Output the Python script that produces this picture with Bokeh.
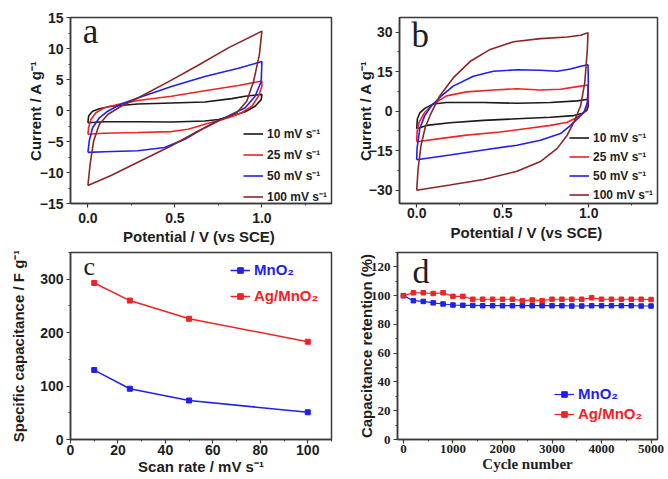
from bokeh.plotting import figure
from bokeh.layouts import column, row
from bokeh.models import Legend, LegendItem, Label, FixedTicker, Range1d, NumeralTickFormatter
from bokeh.embed import file_html
from bokeh.resources import INLINE

# ---------------- data ----------------
# Panel a: CV loops of MnO2 (potential V, current A/g)
a10_v = [0.0, 0.004, 0.027, 0.066, 0.133, 0.287, 0.48, 0.672, 0.827, 0.904, 1.0, 0.996, 0.961, 0.904, 0.827, 0.75, 0.672, 0.48, 0.287, 0.094, 0.0]
a10_i = [-1.97, -0.90, -0.11, 0.27, 0.69, 1.06, 1.22, 1.38, 1.91, 2.29, 2.6, 1.76, 0.69, -0.21, -0.90, -1.44, -1.70, -1.86, -1.81, -1.81, -1.97]
a25_v = [0.0, 0.004, 0.017, 0.046, 0.094, 0.171, 0.287, 0.48, 0.672, 0.865, 1.0, 1.0, 0.98, 0.942, 0.884, 0.807, 0.75, 0.672, 0.576, 0.48, 0.287, 0.094, 0.0]
a25_i = [-3.83, -2.77, -1.44, -0.37, 0.43, 0.96, 1.60, 2.29, 3.19, 4.04, 4.75, 3.88, 2.29, 0.69, -0.37, -1.17, -1.60, -2.23, -3.03, -3.40, -3.56, -3.67, -3.83]
a50_v = [0.0, 0.008, 0.027, 0.066, 0.114, 0.191, 0.287, 0.48, 0.672, 0.865, 1.0, 0.996, 0.961, 0.904, 0.807, 0.75, 0.672, 0.557, 0.441, 0.287, 0.094, 0.0]
a50_i = [-6.76, -4.89, -2.77, -1.17, -0.11, 1.06, 2.02, 3.88, 5.48, 6.81, 7.9, 4.68, 2.29, 0.43, -0.90, -1.60, -2.77, -4.63, -5.96, -6.49, -6.65, -6.76]
a100_v = [0.0, 0.013, 0.033, 0.066, 0.114, 0.191, 0.287, 0.48, 0.634, 0.807, 1.0, 0.985, 0.952, 0.913, 0.855, 0.75, 0.634, 0.48, 0.287, 0.133, 0.0]
a100_i = [-12.1, -8.6, -4.9, -2.23, -0.64, 0.69, 2.02, 4.9, 7.3, 10.1, 12.8, 8.94, 4.68, 1.49, -0.37, -1.70, -3.30, -5.69, -8.35, -10.48, -12.1]

# Panel b: CV loops of Ag/MnO2
b10_v = [0.0, 0.004, 0.018, 0.047, 0.096, 0.173, 0.388, 0.583, 0.778, 0.934, 0.996, 0.998, 0.988, 0.963, 0.914, 0.778, 0.583, 0.388, 0.193, 0.057, 0.0]
b10_i = [-6.65, -2.9, -0.68, 1.06, 2.7, 3.3, 3.3, 3.0, 3.3, 3.9, 4.5, 2.05, 0.19, -0.8, -1.68, -2.3, -2.9, -3.5, -4.4, -5.4, -6.65]
b25_v = [0.0, 0.002, 0.014, 0.047, 0.096, 0.173, 0.29, 0.446, 0.583, 0.719, 0.836, 0.934, 0.996, 0.998, 0.992, 0.973, 0.934, 0.875, 0.778, 0.641, 0.485, 0.29, 0.134, 0.0]
b25_i = [-11.6, -7.9, -4.2, -0.43, 2.7, 5.8, 7.3, 8.0, 8.5, 8.0, 8.3, 9.3, 9.9, 5.8, 2.05, -0.43, -2.3, -4.2, -5.4, -6.6, -7.9, -9.1, -10.4, -11.6]
b50_v = [0.0, 0.002, 0.018, 0.047, 0.086, 0.134, 0.212, 0.329, 0.446, 0.583, 0.719, 0.817, 0.895, 0.953, 0.996, 0.998, 0.992, 0.973, 0.934, 0.895, 0.836, 0.719, 0.583, 0.388, 0.193, 0.0]
b50_i = [-18.4, -14.1, -6.6, -1.7, 2.05, 5.2, 9.5, 13.2, 15.1, 15.7, 15.5, 15.1, 16.0, 17.0, 17.6, 10.7, 3.3, -0.43, -2.9, -5.4, -8.5, -11.0, -12.9, -14.7, -16.6, -18.4]
b100_v = [0.0, 0.008, 0.025, 0.05, 0.086, 0.134, 0.212, 0.31, 0.427, 0.563, 0.719, 0.875, 0.953, 0.996, 0.992, 0.977, 0.953, 0.914, 0.875, 0.817, 0.719, 0.583, 0.388, 0.193, 0.0]
b100_i = [-30.0, -22.0, -13.0, -6.0, -0.43, 5.78, 12.6, 18.8, 23.4, 26.3, 27.5, 28.1, 28.8, 29.75, 23.2, 10.7, 2.05, -4.2, -9.1, -14.1, -19.1, -22.8, -25.9, -28.0, -30.0]

cv_labels = ["10 mV s\u207b\u00b9", "25 mV s\u207b\u00b9", "50 mV s\u207b\u00b9", "100 mV s\u207b\u00b9"]

# Panel c: specific capacitance vs scan rate
scan_rate = [10, 25, 50, 100]
cap_mno2 = [130, 95, 73, 51]
cap_ag_mno2 = [293, 260, 226, 183]

# Panel d: cycling stability
cycles = [0, 200, 400, 600, 800, 1000, 1200, 1400, 1600, 1800, 2000, 2200, 2400, 2600,
          2800, 3000, 3200, 3400, 3600, 3800, 4000, 4200, 4400, 4600, 4800, 5000]
ret_mno2 = [100, 96.5, 96, 95, 94.2, 93.5, 93.3, 93.2, 93, 93, 93, 93, 93, 93,
            93, 93, 93, 92.8, 92.8, 93, 93, 93, 93, 93, 92.8, 92.8]
ret_ag_mno2 = [100, 102, 102, 101.5, 102, 99.5, 99.5, 97.5, 97.5, 97.5, 97.5, 97.5, 96.5, 97,
               96.5, 97.5, 97.5, 97.5, 97.5, 98.5, 97.5, 97.5, 97.5, 97.5, 97.5, 97.3]

# ---------------- style ----------------
SANS = "Liberation Sans"
SERIF = "Liberation Serif"
FRAME = "#3a3a3a"
TXT = "#1e1e1e"
BLACK = "#1a1a1a"
RED = "#ee2424"
BLUE = "#1f1fee"
DRED = "#8b2626"


def make_fig(w, h, xr, yr, bl, br, bt, bb):
    p = figure(width=w, height=h, x_range=Range1d(*xr), y_range=Range1d(*yr),
               output_backend="svg", toolbar_location=None, min_border=0,
               min_border_left=bl, min_border_right=br, min_border_top=bt, min_border_bottom=bb)
    p.grid.visible = False
    p.outline_line_color = FRAME
    p.outline_line_width = 1.5
    p.outline_line_alpha = 1.0
    p.axis.axis_line_color = FRAME
    p.axis.axis_line_width = 1.5
    p.axis.major_tick_line_color = FRAME
    p.axis.minor_tick_line_color = FRAME
    p.axis.major_tick_line_width = 1.2
    p.axis.minor_tick_line_width = 1.0
    p.axis.major_tick_out = 4
    p.axis.major_tick_in = 0
    p.axis.minor_tick_out = 2
    p.axis.minor_tick_in = 0
    p.axis.major_label_text_font = SANS
    p.axis.major_label_text_font_style = "bold"
    p.axis.major_label_text_font_size = "14px"
    p.axis.major_label_text_color = TXT
    p.axis.major_label_standoff = 3
    p.axis.axis_label_text_font = SANS
    p.axis.axis_label_text_font_style = "bold"
    p.axis.axis_label_text_font_size = "15px"
    p.axis.axis_label_text_color = TXT
    return p


def cv_legend(p, renderers, loc, spacing):
    items = [LegendItem(label=lab, renderers=[r]) for lab, r in zip(cv_labels, renderers)]
    lg = Legend(items=items, location=loc, border_line_color=None, background_fill_alpha=0,
                padding=0, margin=0, spacing=spacing, label_height=17, glyph_height=17,
                glyph_width=20, label_standoff=4, label_text_font=SANS,
                label_text_font_style="bold", label_text_font_size="12px", label_text_color=TXT)
    p.add_layout(lg)


def series_legend(p, label, rends, color, loc):
    lg = Legend(items=[LegendItem(label=label, renderers=rends)], location=loc,
                border_line_color=None, background_fill_alpha=0, padding=0, margin=0,
                label_height=14, glyph_height=14, glyph_width=20, label_standoff=4,
                label_text_font=SANS, label_text_font_style="bold",
                label_text_font_size="15px", label_text_color=color)
    p.add_layout(lg)


def panel_letter(p, x, y, t, size="35px"):
    p.add_layout(Label(x=x, y=y, text=t, text_font=SERIF, text_font_size=size,
                       text_color=TXT, text_baseline="middle"))


# ---------------- panel a ----------------
pa = make_fig(338, 251, (-0.1, 1.4), (-15, 15), 70, 7, 17, 46)
pa.xaxis.ticker = FixedTicker(ticks=[0.0, 0.5, 1.0], minor_ticks=[0.25, 0.75, 1.25])
pa.xaxis.formatter = NumeralTickFormatter(format="0.0")
pa.yaxis.ticker = FixedTicker(ticks=[-15, -10, -5, 0, 5, 10, 15],
                              minor_ticks=[-12.5, -7.5, -2.5, 2.5, 7.5, 12.5])
pa.xaxis.axis_label = "Potential / V  (vs SCE)"
pa.yaxis.axis_label = "Current / A g\u207b\u00b9"
pa.xaxis.major_label_standoff = 5
pa.xaxis.axis_label_standoff = 2
pa.yaxis.axis_label_standoff = -7
ra = [pa.line(a10_v, a10_i, line_color=BLACK, line_width=1.6),
      pa.line(a25_v, a25_i, line_color=RED, line_width=1.6),
      pa.line(a50_v, a50_i, line_color=BLUE, line_width=1.6),
      pa.line(a100_v, a100_i, line_color=DRED, line_width=1.6)]
cv_legend(pa, ra, (173, -2), 4)
panel_letter(pa, -0.03, 12.7, "a")

# ---------------- panel b ----------------
pb = make_fig(330, 251, (-0.1, 1.4), (-35, 35.5), 61, 11, 15, 48)
pb.xaxis.ticker = FixedTicker(ticks=[0.0, 0.5, 1.0], minor_ticks=[0.25, 0.75, 1.25])
pb.xaxis.formatter = NumeralTickFormatter(format="0.0")
pb.yaxis.ticker = FixedTicker(ticks=[-30, -15, 0, 15, 30],
                              minor_ticks=[-22.5, -7.5, 7.5, 22.5])
pb.xaxis.axis_label = "Potential / V  (vs SCE)"
pb.yaxis.axis_label = "Current / A g\u207b\u00b9"
pb.xaxis.major_label_standoff = 0
pb.xaxis.axis_label_standoff = 3
pb.yaxis.axis_label_standoff = -8
rb = [pb.line(b10_v, b10_i, line_color=BLACK, line_width=1.6),
      pb.line(b25_v, b25_i, line_color=RED, line_width=1.6),
      pb.line(b50_v, b50_i, line_color=BLUE, line_width=1.6),
      pb.line(b100_v, b100_i, line_color=DRED, line_width=1.6)]
cv_legend(pb, rb, (170, 0), 2)
panel_letter(pb, -0.03, 28.6, "b")

# ---------------- panel c ----------------
pc = make_fig(338, 228, (0, 110), (0, 350), 70, 7, 1, 40)
pc.xaxis.ticker = FixedTicker(ticks=[0, 20, 40, 60, 80, 100], minor_ticks=[10, 30, 50, 70, 90, 110])
pc.yaxis.ticker = FixedTicker(ticks=[0, 100, 200, 300], minor_ticks=[50, 150, 250, 350])
pc.xaxis.axis_label = "Scan rate / mV s\u207b\u00b9"
pc.yaxis.axis_label = "Specific capacitance / F g\u207b\u00b9"
pc.xaxis.major_label_standoff = 1
pc.xaxis.axis_label_standoff = 0
pc.yaxis.axis_label_standoff = 10
lc1 = pc.line(scan_rate, cap_mno2, line_color=BLUE, line_width=1.5)
sc1 = pc.scatter(scan_rate, cap_mno2, marker="square", size=5, fill_color=BLUE, line_color=BLUE)
lc2 = pc.line(scan_rate, cap_ag_mno2, line_color=RED, line_width=1.5)
sc2 = pc.scatter(scan_rate, cap_ag_mno2, marker="square", size=5, fill_color=RED, line_color=RED)
series_legend(pc, "MnO\u2082", [lc1, sc1], BLUE, (160, 161))
series_legend(pc, "Ag/MnO\u2082", [lc2, sc2], RED, (160, 135))
panel_letter(pc, 5.5, 323.5, "c", "26px")

# ---------------- panel d ----------------
pd_ = make_fig(330, 228, (-120, 5130), (0, 130), 59, 11, 1, 40)
pd_.xaxis.ticker = FixedTicker(ticks=[0, 1000, 2000, 3000, 4000, 5000],
                               minor_ticks=[500, 1500, 2500, 3500, 4500])
pd_.yaxis.ticker = FixedTicker(ticks=[0, 20, 40, 60, 80, 100, 120],
                               minor_ticks=[10, 30, 50, 70, 90, 110, 130])
pd_.axis.major_label_text_font = SERIF
pd_.axis.major_label_text_font_size = "13px"
pd_.xaxis.axis_label = "Cycle number"
pd_.xaxis.axis_label_text_font = SERIF
pd_.yaxis.axis_label = "Capacitance retention (%)"
pd_.xaxis.major_label_standoff = 1
pd_.xaxis.axis_label_standoff = 0
pd_.yaxis.axis_label_standoff = -7
ld1 = pd_.line(cycles, ret_mno2, line_color=BLUE, line_width=1.2)
sd1 = pd_.scatter(cycles, ret_mno2, marker="square", size=4.5, fill_color=BLUE, line_color=BLUE)
ld2 = pd_.line(cycles, ret_ag_mno2, line_color=RED, line_width=1.2)
sd2 = pd_.scatter(cycles, ret_ag_mno2, marker="square", size=4.5, fill_color=RED, line_color=RED)
series_legend(pd_, "MnO\u2082", [ld1, sd1], BLUE, (157, 37))
series_legend(pd_, "Ag/MnO\u2082", [ld2, sd2], RED, (157, 17))
panel_letter(pd_, 181, 117.0, "d", "34px")

layout = column(row(pa, pb), row(pc, pd_))
open("out.html", "w").write(file_html(layout, INLINE))
